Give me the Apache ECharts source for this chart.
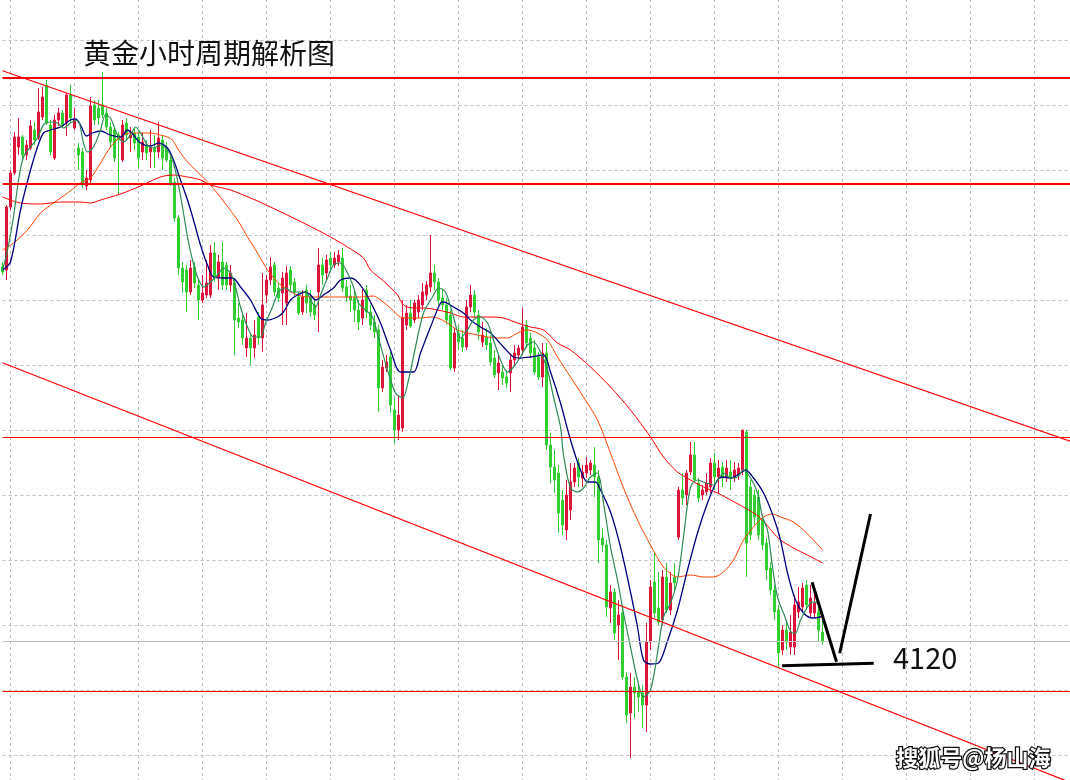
<!DOCTYPE html>
<html>
<head>
<meta charset="utf-8">
<title>黄金小时周期解析图</title>
<script src="https://cdn.jsdelivr.net/npm/echarts@6/dist/echarts.min.js"></script>
<style>
  html, body { margin: 0; padding: 0; background: #fff; }
  #chart { width: 1070px; height: 780px; }
</style>
</head>
<body>
<div id="chart"></div>
<script>
// hourly gold bars, oldest first: [open, close, low, high]
const candles = [
  [4278.2, 4276.2, 4275, 4280.2], [4277, 4302.2, 4273, 4303], [4302.2, 4315.8, 4301, 4317], [4315.8, 4330.2, 4315, 4332.2],
  [4326.2, 4330.2, 4323, 4337.8], [4330.2, 4323, 4321, 4331], [4323, 4327, 4321, 4329], [4325.8, 4334.6, 4325, 4337],
  [4333, 4329, 4327, 4336.2], [4329.8, 4340.2, 4329, 4349.8], [4338.2, 4346.2, 4337, 4350.2], [4351, 4335.8, 4335, 4353],
  [4335, 4324.2, 4323, 4337], [4321.8, 4337, 4321, 4339], [4337, 4339.8, 4334.6, 4341.8], [4339.8, 4335, 4333.8, 4341],
  [4335.8, 4347, 4330.6, 4347.8], [4347, 4337.8, 4336.2, 4351], [4333.8, 4337, 4333, 4341.8], [4325.8, 4323, 4317, 4327.8],
  [4324.2, 4311.8, 4309.8, 4325.8], [4310.6, 4313.8, 4309, 4317], [4313, 4342.6, 4311, 4346.2], [4343, 4337, 4335, 4345],
  [4341.8, 4337.8, 4335, 4345], [4343, 4339, 4337.8, 4356.2], [4339.8, 4334.2, 4333, 4341.8], [4334.2, 4328.2, 4325.8, 4336.2],
  [4333, 4321.8, 4320.2, 4333.8], [4331, 4329, 4307, 4332.2], [4321, 4335, 4320.2, 4337], [4335.8, 4331, 4329, 4337.8],
  [4329.8, 4331, 4324.2, 4334.2], [4331.8, 4327.8, 4325, 4333.8], [4330.2, 4321.8, 4317.8, 4332.2], [4324.2, 4328.2, 4321, 4331.8],
  [4327, 4323.8, 4321, 4329], [4324.2, 4326.2, 4317.8, 4333], [4325.8, 4324.2, 4317.8, 4331], [4324.2, 4329.8, 4321.8, 4336.2],
  [4329, 4321.8, 4317, 4331], [4325.8, 4321, 4320.2, 4328.2], [4321, 4311.8, 4310.6, 4323], [4312.2, 4297.8, 4296.2, 4313.8],
  [4297.8, 4277.8, 4275, 4299], [4277.8, 4272.2, 4267.8, 4280.2], [4277, 4268.2, 4260.2, 4279], [4268.2, 4277.8, 4267, 4281],
  [4278.2, 4271.8, 4269.8, 4280.2], [4271, 4265, 4257, 4273], [4265, 4267.8, 4263.8, 4275], [4267, 4271.8, 4265.8, 4281],
  [4267, 4283.8, 4265.8, 4287], [4283.8, 4273.8, 4272.2, 4288.2], [4273.8, 4280.2, 4269, 4283], [4280.2, 4271, 4269, 4288.2],
  [4279, 4271, 4269, 4280.2], [4271, 4275.8, 4268.2, 4279], [4271.8, 4257, 4243, 4273.8], [4257.8, 4256.2, 4253.8, 4263.8],
  [4257, 4249.8, 4247, 4259], [4245.8, 4249.8, 4242.2, 4259.8], [4249.8, 4245.8, 4239, 4251.8], [4245.8, 4251, 4241.8, 4257],
  [4258.2, 4249.8, 4247, 4260.2], [4249.8, 4263, 4244.2, 4275.8], [4267, 4273, 4263.8, 4275], [4273, 4278.2, 4271, 4282.2],
  [4279, 4268.2, 4266.6, 4280.2], [4269.8, 4265.8, 4264.2, 4271.8], [4267.8, 4273.8, 4255, 4276.2], [4263.8, 4275.8, 4255, 4278.6],
  [4277, 4271, 4269, 4278.6], [4272.2, 4268.2, 4266.6, 4273.8], [4266.2, 4259.8, 4259, 4268.2], [4260.2, 4266.2, 4259, 4269],
  [4269, 4263.8, 4259.8, 4271], [4265.8, 4260.2, 4258.2, 4269], [4263, 4259, 4257, 4265], [4268.2, 4279, 4252.2, 4285.8],
  [4279, 4275, 4271, 4281.8], [4275.8, 4281, 4273, 4283], [4281.8, 4279, 4277, 4284.2], [4279, 4281.8, 4277.8, 4284.2],
  [4280.2, 4283, 4278.6, 4285], [4281.8, 4269.8, 4268.2, 4285.8], [4270.2, 4266.2, 4264.2, 4273], [4266.6, 4265, 4260.2, 4271],
  [4265.8, 4261, 4256.2, 4269], [4261, 4256.2, 4253, 4265], [4257.8, 4265, 4255, 4269.8], [4269, 4260.2, 4257.8, 4271],
  [4260.2, 4255, 4253, 4263], [4256.2, 4252.2, 4249.8, 4259], [4253, 4229.8, 4220.2, 4255], [4229.8, 4238.2, 4228.2, 4241],
  [4237.8, 4240.2, 4236.2, 4243], [4242.2, 4223, 4219.8, 4244.2], [4221, 4213, 4207.8, 4225.8], [4213, 4219, 4209, 4227],
  [4213.8, 4257.8, 4212.2, 4265], [4255, 4259.8, 4253, 4263], [4259.8, 4254.6, 4253.8, 4265], [4257, 4263.8, 4255.8, 4265],
  [4260.2, 4265, 4257.8, 4267], [4263, 4268.2, 4261, 4271.8], [4267, 4271, 4265, 4272.6], [4270.2, 4275.8, 4268.2, 4291],
  [4275.8, 4272.2, 4269, 4279], [4272.2, 4265, 4263, 4273.8], [4265.8, 4263, 4261, 4269], [4263, 4257, 4255, 4265.8],
  [4259, 4237.8, 4237, 4261], [4237.8, 4251.8, 4236.2, 4253.8], [4251.8, 4248.2, 4245, 4255], [4249.8, 4246.2, 4244.2, 4253],
  [4246.2, 4262.2, 4245, 4265], [4262.2, 4267, 4260.2, 4271], [4267, 4260.2, 4257.8, 4269], [4259, 4252.2, 4249, 4261],
  [4248.2, 4251, 4246.2, 4256.2], [4250.2, 4247, 4245, 4253.8], [4247.8, 4240.2, 4239, 4251], [4241.8, 4235, 4233.8, 4245],
  [4235.8, 4239.8, 4229, 4243], [4236.2, 4233.8, 4231, 4239], [4234.2, 4231.8, 4229.8, 4237], [4235.8, 4241, 4228.2, 4243],
  [4241, 4243.8, 4239, 4247], [4243, 4245.8, 4241, 4247], [4245, 4254.2, 4243, 4261.8], [4255, 4247.8, 4245.8, 4257],
  [4249.8, 4243.8, 4241.8, 4251.8], [4245.8, 4236.2, 4235, 4249], [4242.2, 4234.2, 4233, 4244.2], [4234.2, 4243.8, 4230.2, 4247.8],
  [4243.8, 4207, 4205, 4247.8], [4207, 4198.2, 4191.8, 4211.8], [4198.2, 4193, 4187.8, 4205], [4195.8, 4179.8, 4171.8, 4199],
  [4185, 4175, 4171, 4189], [4173, 4187, 4169, 4193], [4181, 4192.2, 4177, 4199.8], [4192.2, 4197.8, 4190.2, 4199.8],
  [4199.8, 4194.2, 4190.2, 4201.8], [4193.8, 4196.2, 4190.2, 4199], [4195.8, 4199, 4193.8, 4202.2], [4197, 4199.8, 4195, 4201],
  [4199, 4194.2, 4186.2, 4206.2], [4194.2, 4169, 4159.8, 4197], [4169.8, 4167, 4164.2, 4173.8], [4167, 4142.2, 4138.2, 4169],
  [4141.8, 4148.2, 4135.8, 4151], [4148.2, 4131.8, 4129, 4149.8], [4135, 4139, 4121, 4145], [4139.8, 4114.2, 4113, 4141.8],
  [4114.2, 4099, 4095.8, 4116.2], [4099.8, 4110.2, 4081.8, 4115.8], [4110.2, 4107.8, 4097.8, 4114.2], [4108.2, 4106.2, 4100.2, 4111.8],
  [4107.8, 4103, 4093.8, 4111], [4103, 4128.2, 4092.2, 4135.8], [4128.2, 4150.2, 4125, 4153], [4152.2, 4139.8, 4137.8, 4163.8],
  [4141.8, 4136.2, 4135, 4156.2], [4137, 4154.2, 4135, 4157], [4154.2, 4141, 4139.8, 4159.8], [4141, 4151.8, 4139, 4156.2],
  [4154.2, 4151.8, 4149, 4159.8], [4170.2, 4189, 4169, 4190.2], [4189, 4185.8, 4183, 4195.8], [4187, 4195.8, 4183, 4197],
  [4196.2, 4203, 4195, 4208.2], [4203, 4193, 4192.2, 4208.2], [4191.8, 4185.8, 4184.2, 4193.8], [4187, 4189, 4185, 4191],
  [4188.2, 4191.8, 4187, 4195.8], [4190.2, 4199.8, 4187.8, 4201.8], [4199.8, 4194.2, 4189, 4203.8], [4194.2, 4197.8, 4187.8, 4201],
  [4198.2, 4193.8, 4190.2, 4200.2], [4193.8, 4197.8, 4192.2, 4201], [4196.2, 4193.8, 4189, 4201], [4193.8, 4197, 4192.2, 4200.2],
  [4195, 4197.8, 4193, 4199.8], [4197, 4213, 4195, 4213], [4212.2, 4167.8, 4154.2, 4213], [4190.2, 4171, 4169, 4193],
  [4187, 4178.2, 4175, 4189], [4186.2, 4171, 4169, 4189], [4177, 4167, 4165, 4179], [4167.8, 4157, 4153, 4169.8],
  [4157.8, 4149, 4147, 4160.2], [4149, 4140.2, 4137, 4151], [4141, 4123.8, 4118.2, 4143], [4125, 4133, 4123, 4135],
  [4133, 4128.2, 4125, 4137], [4126.2, 4132.2, 4123, 4139], [4126.2, 4143, 4123, 4147], [4140.2, 4144.2, 4137.8, 4150.2],
  [4142.2, 4149.8, 4140.2, 4151.8], [4151, 4143, 4141, 4153], [4139.8, 4145.8, 4137.8, 4151], [4139.8, 4143.8, 4137.8, 4149],
  [4140.2, 4133, 4128.2, 4143], [4132.2, 4128.2, 4127, 4137]
];

// moving averages: [bar index, price]
const maFast = [
  [0, 4277], [1.25, 4285], [2.75, 4298.2], [4, 4313], [5.25, 4322.2], [7, 4326.2], [8.75, 4329.8], [10.25, 4335],
  [12, 4336.2], [13.75, 4335.8], [15.25, 4333.8], [17, 4335.8], [18.75, 4337], [20.25, 4327.8], [21.25, 4324.2],
  [22.75, 4326.2], [24.5, 4333], [25.75, 4339], [27, 4337.8], [28.75, 4331], [30.25, 4328.2], [32, 4331], [33.25, 4334.2],
  [34.5, 4331.8], [36.25, 4327], [37.75, 4325.8], [39.5, 4327], [41.25, 4325], [42.5, 4321], [43.75, 4313], [45, 4302.2],
  [46.25, 4290.2], [47.5, 4281], [48.75, 4274.2], [50.25, 4270.2], [52, 4272.2], [53.75, 4275], [55.25, 4277.8],
  [57, 4275.8], [58.25, 4270.2], [59.5, 4262.2], [61.25, 4254.2], [62.75, 4250.2], [64.5, 4250.2], [65.75, 4255.8],
  [67.5, 4262.2], [69, 4268.2], [70.75, 4269.8], [72.5, 4268.2], [74, 4268.2], [75.75, 4268.2], [77.5, 4263.8],
  [78.25, 4262.2], [79.5, 4267], [81.25, 4273.8], [82.75, 4279], [84.5, 4279.8], [86.25, 4275.8], [87.75, 4270.2],
  [89, 4263.8], [90.75, 4261], [92.5, 4258.2], [94, 4249.8], [96.25, 4237], [98.25, 4227.8], [100, 4225.8], [101.5, 4233],
  [103.25, 4246.2], [105.25, 4259.8], [107.5, 4266.2], [109, 4269.8], [110.75, 4268.2], [112.75, 4258.2], [114.5, 4249.8],
  [116.25, 4253], [117.75, 4257], [119.5, 4258.2], [121.25, 4255.8], [122.75, 4249], [124.5, 4241], [126.25, 4236.2],
  [127.75, 4238.2], [129.5, 4242.2], [131.25, 4247], [132.75, 4248.2], [134.5, 4244.2], [136.25, 4237], [137.75, 4226.2],
  [139.5, 4214.2], [140.25, 4203], [142, 4189.8], [143.75, 4188.2], [145.25, 4189.8], [147, 4194.2], [148.75, 4195.8],
  [150.25, 4183.8], [152, 4166.2], [153.75, 4153], [155.25, 4139.8], [157, 4126.2], [158.75, 4113], [160.25, 4106.2],
  [162, 4109], [163.75, 4123.8], [165.25, 4138.2], [167, 4143.8], [168.75, 4153], [170.25, 4170.2], [172, 4190.2],
  [173.75, 4193], [175.25, 4192.2], [177.75, 4191], [180.25, 4195.8], [182, 4193.8], [183.75, 4194.2], [185.25, 4197],
  [187, 4193.8], [188.75, 4187.8], [190, 4178.2], [191.25, 4173], [192.5, 4158.2], [193.75, 4146.2], [195.25, 4139.8],
  [197.5, 4131.8], [198.25, 4131.8], [199.5, 4137], [201.25, 4142.2], [202.5, 4144.2], [203.75, 4143.8], [205, 4139.8]
];
const maMid = [
  [0, 4277], [2, 4280.2], [4.5, 4301], [7, 4317], [8.75, 4326.2], [10.25, 4331.8], [12, 4333], [14.5, 4334.2], [17, 4337],
  [18.25, 4337.4], [19.5, 4335], [21, 4330.6], [22.5, 4331.8], [24.5, 4332.6], [27, 4331], [29.5, 4330.2], [31.25, 4333],
  [32.75, 4331], [34.5, 4327.8], [37, 4326.6], [39, 4327.8], [41.25, 4325.8], [42.75, 4321], [44.5, 4313], [46.25, 4305],
  [47.75, 4297], [49.5, 4287], [51.25, 4279], [52.75, 4274.2], [55.25, 4273.8], [57.5, 4273.8], [59.5, 4270.2], [62, 4265],
  [64.5, 4257.8], [66.25, 4257], [68.75, 4258.2], [70.25, 4260.2], [72, 4265], [73.75, 4267], [75.75, 4268.2], [77, 4267],
  [78.25, 4265], [80.25, 4267], [82.75, 4269.8], [84.5, 4273], [87, 4273.8], [88.25, 4273], [90, 4269.8], [92, 4264.2],
  [94.5, 4255.8], [97, 4245], [99.5, 4236.2], [102.75, 4236.2], [104.5, 4243.8], [107, 4254.2], [109.5, 4263.8],
  [110.25, 4264.2], [112.75, 4262.2], [115.25, 4259.8], [117, 4257], [119.5, 4254.2], [122, 4251.8], [125.25, 4246.2],
  [127.75, 4242.2], [129.5, 4241.8], [132, 4242.2], [135.25, 4243], [137, 4236.2], [139.5, 4223.8], [142, 4209],
  [144.5, 4197], [146.25, 4192.2], [148.25, 4192.2], [149.5, 4189], [152, 4180.2], [154.5, 4166.2], [157, 4148.2],
  [158.75, 4134.2], [160.25, 4121], [162, 4119.4], [164, 4119.8], [166.25, 4128.6], [168.75, 4141], [171.25, 4157],
  [173.75, 4171.8], [176.25, 4183.8], [178.75, 4193], [180.25, 4194.2], [182, 4193.8], [184.5, 4195.8], [185.75, 4197],
  [187.75, 4193.8], [190.25, 4187.8], [192.75, 4178.2], [194.5, 4169], [196.25, 4155.8], [198.25, 4145], [200.25, 4139.8],
  [202.5, 4137.8], [204.5, 4138.2], [205.25, 4139]
];
const maSlow = [
  [0, 4285], [2.75, 4287.8], [6.25, 4293], [9.5, 4299.8], [12.75, 4303.8], [16.25, 4307.8], [19.5, 4311.8], [22, 4313.8],
  [24.5, 4319.8], [27, 4326.2], [29.5, 4330.2], [32, 4331.8], [34.5, 4331.8], [37, 4331.8], [39.5, 4331], [41.25, 4330.2],
  [42.5, 4329], [44, 4325], [46.25, 4320.2], [48.25, 4317], [50.25, 4313.8], [52, 4311], [55, 4305], [58.75, 4297],
  [61.25, 4290.2], [63.75, 4283.8], [66.25, 4277], [68.75, 4272.2], [71.25, 4269], [73.75, 4267], [76.25, 4266.2],
  [79.5, 4266.2], [82.75, 4266.2], [86.25, 4266.2], [89.5, 4266.2], [92.75, 4266.6], [94.5, 4265], [97, 4261.8],
  [99.5, 4258.2], [102, 4257.8], [104.5, 4257.8], [107, 4258.2], [108.75, 4257.8], [111.25, 4255.8], [113.75, 4253],
  [116.25, 4251.8], [118.75, 4251], [121.25, 4250.2], [123.75, 4249.8], [126.25, 4249.8], [128.75, 4251.8], [131.25, 4253],
  [133.75, 4251.8], [136.25, 4249], [138.75, 4242.2], [142, 4234.2], [145.25, 4226.2], [148.75, 4217], [152, 4203.8],
  [155.25, 4189.8], [158.75, 4177], [162, 4167], [165.25, 4158.2], [168.75, 4154.2], [172, 4155], [175.25, 4154.2],
  [177.75, 4154.2], [180.25, 4156.2], [182.75, 4161], [185.25, 4169], [187.75, 4174.2], [190.25, 4178.2], [192.5, 4179.4],
  [194.5, 4178.2], [197.75, 4176.2], [201.25, 4171.4], [205, 4165]
];
const maLong = [
  [0, 4306.2], [4.5, 4303.8], [9.5, 4303.4], [14.5, 4304.2], [19.5, 4304.2], [22, 4303.8], [24.5, 4305], [29.5, 4307.4],
  [34.5, 4310.6], [39.5, 4314.2], [42.75, 4315], [46.25, 4314.2], [49.5, 4313], [52, 4311], [57, 4309], [62, 4305.8],
  [67, 4302.2], [73.75, 4297], [77.75, 4293.8], [82, 4290.2], [86.25, 4286.2], [90.25, 4281.8], [92, 4277], [95.25, 4272.6],
  [98.75, 4267], [100.25, 4263], [102.75, 4261.8], [105.25, 4261.8], [108.75, 4261], [112, 4259.8], [115.25, 4258.2],
  [118.75, 4258.2], [122, 4258.2], [125.25, 4257.8], [128.75, 4255.8], [132, 4254.2], [135.25, 4253], [138.75, 4247.8],
  [142, 4245], [147, 4238.2], [152, 4230.2], [157, 4221], [162, 4210.2], [165.25, 4202.2], [168.75, 4196.2], [172, 4193],
  [175.25, 4190.2], [178.75, 4187.8], [182, 4185], [185.25, 4182.2], [189.5, 4177.8], [192.75, 4171.8], [194.5, 4169],
  [197.75, 4165.8], [201.25, 4163], [205, 4159.8]
];

// drawn levels
const upperLevels = [4353.8, 4311.4];
const lowerLevels = [4210.2, 4108.6];
const bidPrice = 4128.6;
const channelUpper = [[0, 4356.7], [267, 4208.5]];
const channelLower = [[0, 4239.9], [267, 4072]];
const sketchDown = [[202.4, 4152.1], [208.5, 4120.3]];
const sketchUp = [[209.3, 4123.7], [217, 4179.4]];
const sketchBase = [[194.9, 4118.7], [217.8, 4119.7]];
const targetLabel = '4120';

const barSlots = Array.from({ length: 268 }, (_, i) => 'H' + i);

const chart = echarts.init(document.getElementById('chart'));

const maLine = (name, data, color, width) => ({
  name,
  type: 'line',
  xAxisIndex: 1,
  data,
  symbol: 'none',
  smooth: 0.3,
  lineStyle: { color, width },
  silent: true,
  z: 4
});

const drawnLine = (data, color, width) => ({
  type: 'line',
  xAxisIndex: 1,
  data,
  symbol: 'none',
  lineStyle: { color, width },
  silent: true,
  z: 5
});

chart.setOption({
  animation: false,
  backgroundColor: '#ffffff',
  grid: { left: 2.5, right: -0.5, top: -25, bottom: -40, outerBoundsMode: 'none' },
  xAxis: [
    {
      type: 'category',
      data: barSlots,
      boundaryGap: false,
      axisLine: { show: false },
      axisTick: { show: false },
      axisLabel: { show: false },
      splitLine: {
        show: true,
        interval: (i) => i % 16 === 2,
        lineStyle: { color: '#c0c0c0', width: 1, type: [3, 3] }
      }
    },
    { type: 'value', min: 0, max: 267, show: false }
  ],
  yAxis: {
    type: 'value',
    min: 4057,
    max: 4395,
    interval: 26,
    axisLine: { show: false },
    axisTick: { show: false },
    axisLabel: { show: false },
    splitLine: { show: true, lineStyle: { color: '#c0c0c0', width: 1, type: [3, 3] } }
  },
  series: [
    {
      type: 'candlestick',
      data: candles,
      barWidth: 2,
      clip: false,
      silent: true,
      z: 3,
      itemStyle: {
        color: '#dc143c',
        color0: '#32cd32',
        borderColor: '#dc143c',
        borderColor0: '#32cd32',
        borderWidth: 1
      },
      markLine: {
        symbol: 'none',
        silent: true,
        label: { show: false },
        data: [
          ...upperLevels.map(v => ({ yAxis: v, lineStyle: { color: '#ff0000', width: 2, type: 'solid' } })),
          ...lowerLevels.map(v => ({ yAxis: v, lineStyle: { color: '#ff0000', width: 1.2, type: 'solid' } })),
          { yAxis: bidPrice, lineStyle: { color: '#c0c0c0', width: 1, type: 'solid' } }
        ]
      }
    },
    maLine('MA long', maLong, '#ff0000', 1),
    maLine('MA slow', maSlow, '#ff4500', 1),
    maLine('MA mid', maMid, '#000080', 1.3),
    maLine('MA fast', maFast, '#2e8b57', 1.2),
    drawnLine(channelUpper, '#ff0000', 1.2),
    drawnLine(channelLower, '#ff0000', 1.2),
    drawnLine(sketchDown, '#000000', 3),
    drawnLine(sketchUp, '#000000', 3),
    drawnLine(sketchBase, '#000000', 3)
  ],
  graphic: [
    {
      type: 'text', left: 83, top: 39, z: 10,
      style: { text: '黄金小时周期解析图', font: '28px "Noto Sans CJK SC"', fill: '#111' }
    },
    {
      type: 'text', left: 893, top: 643, z: 10,
      style: { text: targetLabel, font: '29px "Noto Sans CJK SC"', fill: '#111' }
    },
    {
      type: 'text', left: 895, top: 745, z: 10,
      style: {
        text: '搜狐号@杨山海', font: 'bold 22px "Noto Sans CJK SC"',
        fill: '#ffffff', stroke: '#111111', lineWidth: 2.5
      }
    }
  ]
});
</script>
</body>
</html>
